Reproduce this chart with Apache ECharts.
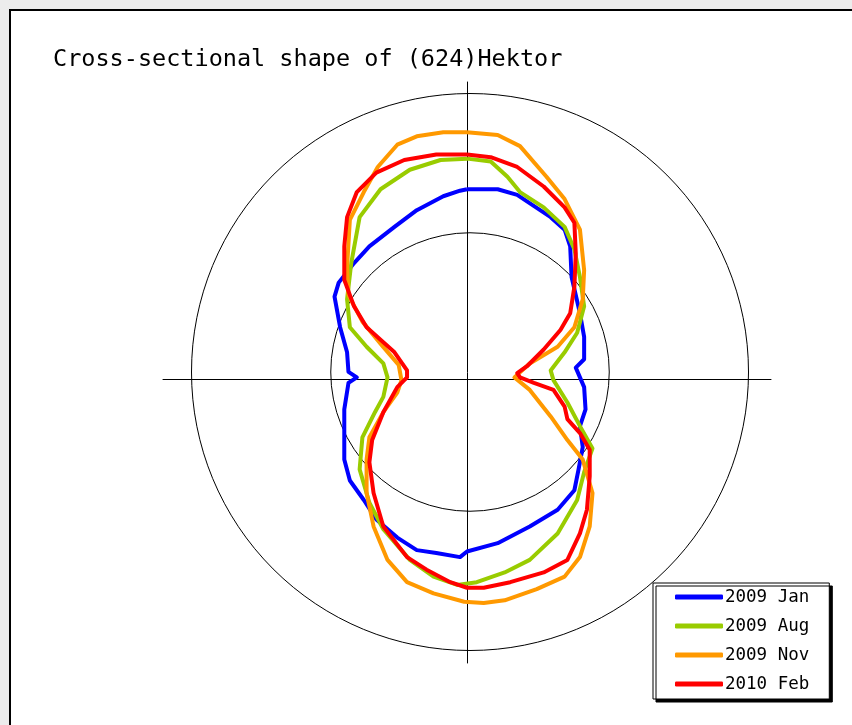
<!DOCTYPE html>
<html>
<head>
<meta charset="utf-8">
<script src="https://cdn.jsdelivr.net/npm/echarts@6/dist/echarts.min.js"></script>
<style>
html,body{margin:0;padding:0;background:#ececec;}
#chart{width:852px;height:725px;}
</style>
</head>
<body>
<div id="chart"></div>
<script>
// Cross-section outlines, [x, y] in km (x: east, y: north)
const seriesNames = ['2009 Jan', '2009 Aug', '2009 Nov', '2010 Feb'];
const seriesColors = ['#0000ff', '#99cc00', '#ff9900', '#ff0000'];

const jan2009 = [[0,136],[7,136],[22,136],[36,132],[60,116],[70,107],[74,95],[75,73],[81,47],[84,30],[84,14],[78,8],[81,1],[84,-6],[85,-22],[81,-34],[83,-49],[80,-65],[77,-80],[65,-94],[45,-106],[22,-118],[0,-124],[-5,-128],[-22,-125],[-36,-123],[-50,-114],[-65,-101],[-74,-87],[-84,-73],[-88,-58],[-88,-44],[-88,-22],[-85,-3],[-79,1],[-85,5],[-86,19],[-91,37],[-95,59],[-92,69],[-81,83],[-70,95],[-52,109],[-36,121],[-17,131],[-5,135],[0,136]];

const aug2009 = [[0,158],[17,156],[29,145],[38,134],[55,123],[70,109],[77,93],[81,73],[84,52],[79,33],[70,19],[60,6],[62,-1],[72,-17],[81,-34],[90,-50],[84,-67],[79,-87],[65,-111],[45,-130],[27,-139],[7,-146],[-7,-148],[-24,-142],[-41,-130],[-60,-108],[-70,-89],[-77,-65],[-75,-42],[-66,-24],[-60,-13],[-57,1],[-60,11],[-72,23],[-84,37],[-86,57],[-83,83],[-77,116],[-62,136],[-41,150],[-19,157],[0,158]];

const nov2009 = [[0,177],[22,175],[38,167],[57,145],[70,129],[81,107],[84,78],[83,57],[77,37],[65,23],[45,11],[34,1],[45,-8],[60,-27],[72,-44],[83,-58],[90,-82],[88,-106],[81,-128],[70,-142],[50,-151],[27,-159],[12,-161],[-2,-160],[-24,-154],[-43,-146],[-57,-130],[-67,-106],[-72,-82],[-72,-58],[-70,-42],[-60,-24],[-50,-10],[-47,-1],[-49,10],[-61,24],[-75,41],[-85,60],[-86,80],[-84,114],[-74,134],[-64,152],[-50,168],[-36,174],[-17,177],[0,177]];

const feb2010 = [[0,161],[17,159],[36,152],[55,138],[70,123],[77,112],[78,90],[77,66],[74,47],[67,35],[55,21],[43,9],[36,4],[38,1],[48,-3],[62,-8],[70,-20],[72,-29],[81,-39],[88,-51],[88,-70],[86,-94],[81,-111],[72,-130],[55,-139],[31,-146],[12,-150],[0,-150],[-12,-146],[-29,-137],[-43,-128],[-60,-106],[-67,-82],[-70,-60],[-68,-44],[-60,-24],[-50,-6],[-43,1],[-43,6],[-52,19],[-72,37],[-81,52],[-88,71],[-88,95],[-86,116],[-79,134],[-65,148],[-45,157],[-22,161],[0,161]];

// Reference circles (km)
const circleRadii = [100, 200];

const chart = echarts.init(document.getElementById('chart'), null, {renderer: 'canvas'});
const outlines = [jan2009, aug2009, nov2009, feb2010];

const option = {
  animation: false,
  backgroundColor: '#ececec',
  graphic: [
    {type: 'rect', z: -10, shape: {x: 10, y: 10, width: 860, height: 740},
     style: {fill: '#ffffff', stroke: '#000000', lineWidth: 2}}
  ],
  title: {
    text: 'Cross-sectional shape of (624)Hektor',
    left: 48, top: 43,
    textStyle: {fontFamily: 'DejaVu Sans Mono', fontSize: 23.5, fontWeight: 'normal', color: '#000'}
  },
  polar: {center: [470, 372], radius: 278.5},
  angleAxis: {
    min: 0, max: 360, startAngle: 0,
    axisLine: {show: false}, axisTick: {show: false}, axisLabel: {show: false}, splitLine: {show: false}
  },
  radiusAxis: {
    min: 0, max: circleRadii[1], interval: circleRadii[0],
    axisLine: {show: false}, axisTick: {show: false}, axisLabel: {show: false},
    splitLine: {show: true, lineStyle: {color: '#000', width: 1}}
  },
  grid: {left: 163, width: 608, top: 82, height: 581, containLabel: false},
  xAxis: {
    type: 'value', min: -218, max: 218,
    axisLine: {show: true, onZero: true, lineStyle: {color: '#000', width: 1}},
    axisTick: {show: false}, axisLabel: {show: false}, splitLine: {show: false}
  },
  yAxis: {
    type: 'value', min: -204, max: 213,
    axisLine: {show: true, onZero: true, lineStyle: {color: '#000', width: 1}},
    axisTick: {show: false}, axisLabel: {show: false}, splitLine: {show: false}
  },
  legend: {
    orient: 'vertical',
    left: 653, top: 583,
    padding: [4, 20, 5, 22],
    itemGap: 9,
    itemWidth: 48, itemHeight: 5,
    icon: 'roundRect',
    backgroundColor: '#fff',
    borderColor: '#000', borderWidth: 1,
    shadowColor: '#000', shadowBlur: 0, shadowOffsetX: 3, shadowOffsetY: 3,
    textStyle: {fontFamily: 'DejaVu Sans Mono', fontSize: 17.5, lineHeight: 20, color: '#000', padding: [0, 0, 0, -3]},
    data: seriesNames
  },
  series: outlines.map((d, i) => ({
    name: seriesNames[i],
    type: 'line',
    data: d,
    showSymbol: false,
    symbol: 'none',
    smooth: false,
    color: seriesColors[i],
    lineStyle: {color: seriesColors[i], width: 4, join: 'round'},
    z: 3 + i
  }))
};
chart.setOption(option);
</script>
</body>
</html>
